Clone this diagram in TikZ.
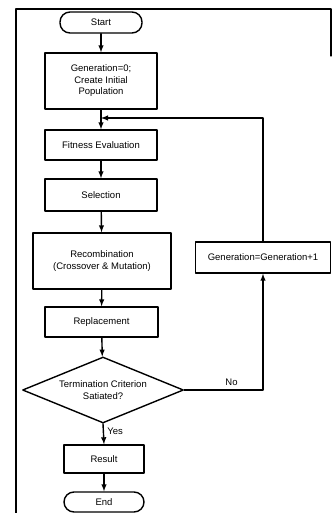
\documentclass[tikz,border=0pt]{standalone}
\usepackage{fontspec}
\setmainfont{Liberation Sans}
\usetikzlibrary{shapes.geometric}
\begin{document}
\begin{tikzpicture}[x=1pt, y=-1pt, line cap=round, line join=round, >=latex, font=\fontsize{9.5}{11.5}\selectfont,
		stepbox/.style={draw, line width=1.4pt, rectangle, align=center, inner sep=2pt},
		termbox/.style={stepbox, rounded corners=10pt},
		testbox/.style={draw, line width=1.4pt, diamond, aspect=2.44, inner sep=1pt, align=center},
		flow/.style={line width=1.4pt, ->}]
			\useasboundingbox (0,0) rectangle (332,513);
			% frame of the page
			\draw[line width=1.2pt] (16,513) -- (16,9) -- (331,9) -- (331,56);
			\node[termbox, minimum width=82, minimum height=21] (start) at (101,22.5) {Start};
			\node[stepbox, minimum width=112, minimum height=56] (init) at (101,81) {Generation=0;\\Create Initial\\Population};
			\node[stepbox, minimum width=112, minimum height=30] (fit) at (101,145) {Fitness Evaluation};
			\node[stepbox, minimum width=112, minimum height=32] (sel) at (101,195) {Selection};
			\node[stepbox, minimum width=138, minimum height=56] (rec) at (102,261) {Recombination\\(Crossover \& Mutation)};
			\node[stepbox, minimum width=113, minimum height=30] (rep) at (101.5,322) {Replacement};
			\node[testbox, minimum width=161, minimum height=66] (term) at (103,390) {Termination Criterion\\Satiated?};
			\node[stepbox, minimum width=135, minimum height=31] (gen) at (263,257.5) {Generation=Generation+1};
			\node[stepbox, minimum width=80, minimum height=28] (res) at (104,459) {Result};
			\node[termbox, minimum width=80, minimum height=20] (end) at (104,502) {End};
			\coordinate (loop) at (101,118);
			\foreach \a/\b in {start/init, init/fit, fit/sel, sel/rec, rec/rep, rep/term, res/end}{
				\draw[flow] (\a) -- (\b);
			}
			\draw[flow] (gen.north) |- (loop);
			\draw[flow] (term.east) -| node[pos=0.3, above]{No} (gen.south);
			\draw[flow] (term.south) -- node[pos=0.35, right]{Yes} (res.north);
		\end{tikzpicture}
\end{document}
